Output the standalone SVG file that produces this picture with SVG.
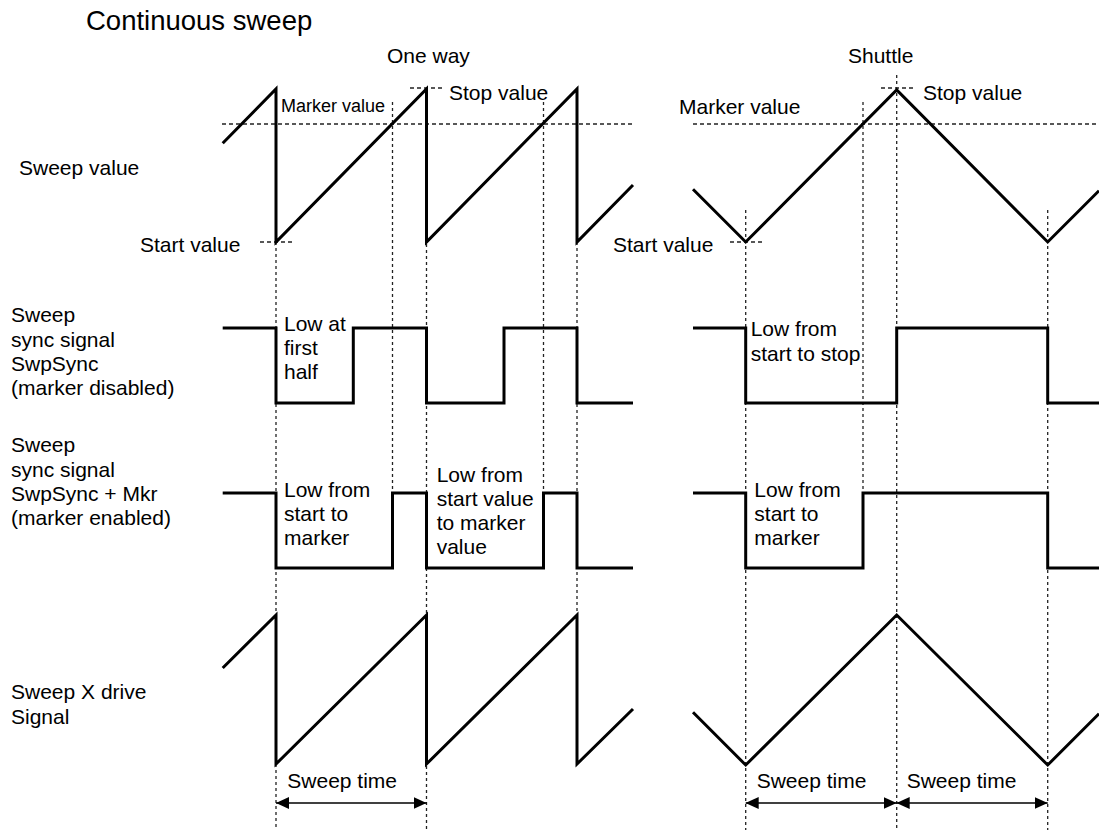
<svg xmlns="http://www.w3.org/2000/svg" width="1099" height="830" viewBox="0 0 1099 830">
<defs>
<style>
text{font-family:"Liberation Sans",Arial,sans-serif;font-size:21px;fill:#000}
.t{font-size:27.5px}
.sm{font-size:18px}
.w{fill:none;stroke:#000;stroke-width:3;stroke-linejoin:miter}
.h{fill:none;stroke:#222;stroke-width:1.4;stroke-dasharray:4 3}
.v{fill:none;stroke:#222;stroke-width:1.3;stroke-dasharray:3 3}
.a{fill:none;stroke:#000;stroke-width:1.5}
</style>
<marker id="ah" viewBox="0 0 13 12" refX="13" refY="6" markerWidth="13" markerHeight="12" markerUnits="userSpaceOnUse" orient="auto-start-reverse">
<path d="M0,0 L13,6 L0,12 Z" fill="#000"/>
</marker>
</defs>
<rect width="1099" height="830" fill="#fff"/>

<g id="labels">
<text class="t" x="86" y="30">Continuous sweep</text>
<text x="387" y="63">One way</text>
<text x="848" y="63">Shuttle</text>
<text x="19" y="175">Sweep value</text>
<text x="11" y="322">Sweep</text>
<text x="11" y="346.5">sync signal</text>
<text x="11" y="371">SwpSync</text>
<text x="11" y="395">(marker disabled)</text>
<text x="11" y="452">Sweep</text>
<text x="11" y="476.5">sync signal</text>
<text x="11" y="501">SwpSync + Mkr</text>
<text x="11" y="525">(marker enabled)</text>
<text x="11" y="699">Sweep X drive</text>
<text x="11" y="724">Signal</text>
</g>

<g id="connectors">
<line class="h" x1="222" y1="124" x2="633" y2="124"/>
<line class="h" x1="693" y1="124" x2="1099" y2="124"/>
<line class="h" x1="260" y1="242" x2="292" y2="242"/>
<line class="h" x1="410" y1="88" x2="445" y2="88"/>
<line class="h" x1="730" y1="242" x2="763" y2="242"/>
<line class="h" x1="881" y1="88" x2="915" y2="88"/>
<line class="v" x1="276" y1="242" x2="276" y2="830"/>
<line class="v" x1="392.5" y1="102" x2="392.5" y2="493"/>
<line class="v" x1="426.5" y1="88" x2="426.5" y2="830"/>
<line class="v" x1="543.5" y1="102" x2="543.5" y2="493"/>
<line class="v" x1="577" y1="242" x2="577" y2="615"/>
<line class="v" x1="745.7" y1="210" x2="745.7" y2="830"/>
<line class="v" x1="863" y1="102" x2="863" y2="493"/>
<line class="v" x1="896.7" y1="75" x2="896.7" y2="830"/>
<line class="v" x1="1047.7" y1="210" x2="1047.7" y2="830"/>
<line class="a" x1="276" y1="803" x2="426.5" y2="803" marker-start="url(#ah)" marker-end="url(#ah)"/>
<line class="a" x1="745.7" y1="803" x2="896.7" y2="803" marker-start="url(#ah)" marker-end="url(#ah)"/>
<line class="a" x1="896.7" y1="803" x2="1047.7" y2="803" marker-start="url(#ah)" marker-end="url(#ah)"/>
</g>

<g id="sweep-value">
<polyline class="w" points="222.7,143.3 276,89 276,242 426.5,89 426.5,242 577,89 577,242 633,185"/>
<polyline class="w" points="693,189.3 745.7,242 896.7,90 1047.7,242 1099,190.7"/>
<text class="sm" x="281" y="112">Marker value</text>
<text x="449" y="100">Stop value</text>
<text x="140" y="251.5">Start value</text>
<text x="679" y="114">Marker value</text>
<text x="923" y="100">Stop value</text>
<text x="613" y="251.5">Start value</text>
</g>

<g id="sync-disabled">
<polyline class="w" points="222.7,328 276,328 276,403 353.3,403 353.3,328 426.5,328 426.5,403 504,403 504,328 577,328 577,403 633,403"/>
<polyline class="w" points="693,328 745.7,328 745.7,403 896.7,403 896.7,328 1047.7,328 1047.7,403 1099,403"/>
<text x="284" y="330.5">Low at</text>
<text x="284" y="354.5">first</text>
<text x="284" y="378.5">half</text>
<text x="750.7" y="335.7">Low from</text>
<text x="750.7" y="360.7">start to stop</text>
</g>

<g id="sync-enabled">
<polyline class="w" points="222.7,493 276,493 276,568 392.5,568 392.5,493 426.5,493 426.5,568 543.5,568 543.5,493 577,493 577,568 633,568"/>
<polyline class="w" points="693,493 745.7,493 745.7,568 863,568 863,493 1047.7,493 1047.7,568 1099,568"/>
<text x="284" y="496.5">Low from</text>
<text x="284" y="520.7">start to</text>
<text x="284" y="545">marker</text>
<text x="436.7" y="481.7">Low from</text>
<text x="436.7" y="506">start value</text>
<text x="436.7" y="530">to marker</text>
<text x="436.7" y="554">value</text>
<text x="754.3" y="496.5">Low from</text>
<text x="754.3" y="520.7">start to</text>
<text x="754.3" y="545">marker</text>
</g>

<g id="x-drive">
<polyline class="w" points="222.7,668 276,615 276,764 426.5,615 426.5,764 577,615 577,764 633,709"/>
<polyline class="w" points="693,712.3 745.7,765 896.7,615 1047.7,765 1099,713.7"/>
<text x="287.3" y="788.3">Sweep time</text>
<text x="756.7" y="788.3">Sweep time</text>
<text x="906.7" y="788.3">Sweep time</text>
</g>
</svg>
